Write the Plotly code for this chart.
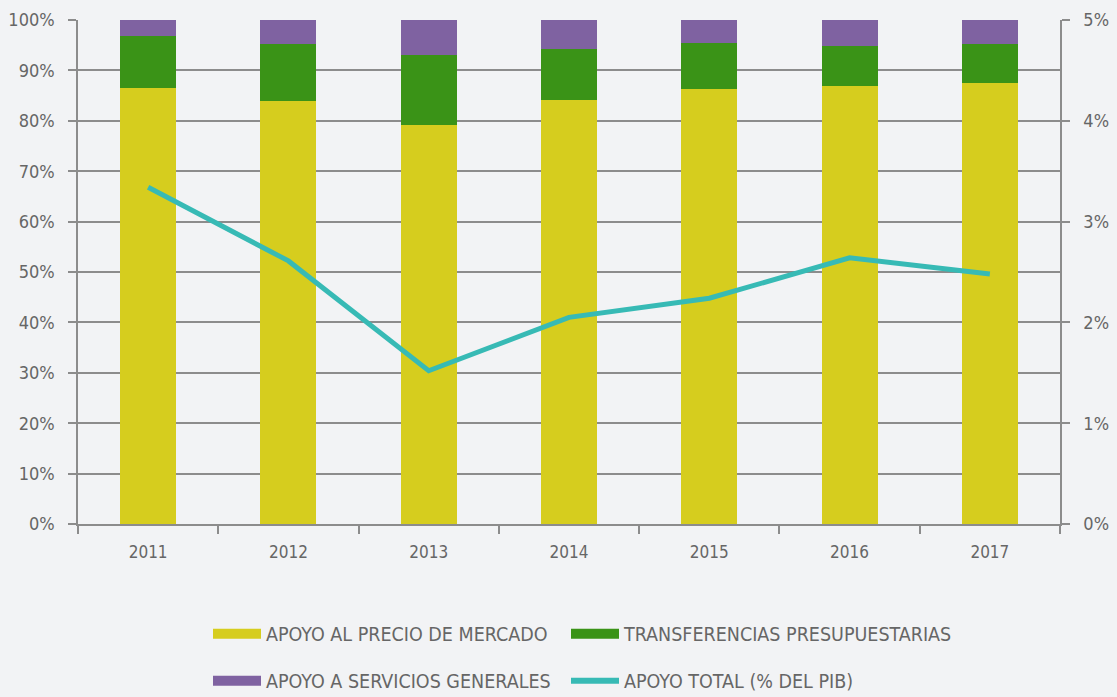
import plotly.graph_objects as go

years = ["2011", "2012", "2013", "2014", "2015", "2016", "2017"]
precio_mercado = [86.6, 84.0, 79.2, 84.1, 86.3, 86.9, 87.6]
transferencias = [10.3, 11.3, 13.9, 10.2, 9.1, 7.9, 7.6]
servicios = [3.1, 4.7, 6.9, 5.7, 4.6, 5.2, 4.8]
apoyo_total_pib = [3.34, 2.61, 1.52, 2.05, 2.24, 2.64, 2.48]

names = ["APOYO AL PRECIO DE MERCADO", "TRANSFERENCIAS PRESUPUESTARIAS",
         "APOYO A SERVICIOS GENERALES", "APOYO TOTAL (% DEL PIB)"]
colors = ["#d6cd1e", "#3a9317", "#7f62a1", "#37bab5"]

GRAY = "#666666"
GRID = "#8c8c8c"
FONT = "DejaVu Sans Condensed, Liberation Sans Narrow, sans-serif"

fig = go.Figure()
for vals, name, col in zip([precio_mercado, transferencias, servicios], names[:3], colors[:3]):
    fig.add_trace(go.Bar(x=years, y=vals, name=name, showlegend=False,
                         marker=dict(color=col, line=dict(width=0)), width=0.4))
fig.add_trace(go.Scatter(x=years, y=apoyo_total_pib, name=names[3], showlegend=False,
                         yaxis="y2", mode="lines",
                         line=dict(color=colors[3], width=5)))

# legend entries (swatches), one legend per entry laid out in a 2x2 grid
legend_ids = ["legend", "legend2", "legend3", "legend4"]
for i, (name, col) in enumerate(zip(names, colors)):
    fig.add_trace(go.Scatter(x=[None], y=[None], name=name, mode="lines",
                             line=dict(color=col, width=16 if i < 3 else 6),
                             showlegend=True, legend=legend_ids[i]))

leg_common = dict(orientation="h", xanchor="left", yanchor="middle", itemwidth=48,
                  font=dict(size=19.5, color=GRAY), bgcolor="rgba(0,0,0,0)")
col_x = [(208 - 78) / 982, (566 - 78) / 982]
row_y = [(524 - 634) / 504, (524 - 681) / 504]

fig.update_layout(
    barmode="stack",
    width=1117, height=697,
    margin=dict(l=78, r=57, t=20, b=173, autoexpand=False),
    paper_bgcolor="#f2f3f5", plot_bgcolor="#f2f3f5",
    font=dict(family=FONT, color=GRAY, size=18),
    xaxis=dict(type="category", showline=True, linecolor=GRID, linewidth=1.5,
               ticks="outside", tickson="boundaries", ticklen=8, tickcolor=GRID,
               tickwidth=1.5, showgrid=False, ticklabelstandoff=12, automargin=False,
               tickfont=dict(size=17, color=GRAY)),
    yaxis=dict(range=[0, 100], dtick=10, ticksuffix="%", showgrid=True,
               gridcolor=GRID, gridwidth=1.5, showline=True, linecolor=GRID,
               linewidth=1.5, ticks="outside", ticklen=8, tickcolor=GRID,
               tickwidth=1.5, zeroline=False, automargin=False, ticklabelstandoff=10,
               tickfont=dict(size=18, color=GRAY)),
    yaxis2=dict(range=[0, 5], dtick=1, ticksuffix="%", overlaying="y", side="right",
                showgrid=False, showline=True, linecolor=GRID, linewidth=1.5,
                ticks="outside", ticklen=8, tickcolor=GRID, tickwidth=1.5,
                zeroline=False, automargin=False, ticklabelstandoff=10,
                tickfont=dict(size=18, color=GRAY)),
    legend=dict(x=col_x[0], y=row_y[0], **leg_common),
    legend2=dict(x=col_x[1], y=row_y[0], **leg_common),
    legend3=dict(x=col_x[0], y=row_y[1], **leg_common),
    legend4=dict(x=col_x[1], y=row_y[1], **leg_common),
)

fig.write_html("out.html", config={"displayModeBar": False},
               post_script="document.body.style.margin='0';document.body.style.overflow='hidden';")
